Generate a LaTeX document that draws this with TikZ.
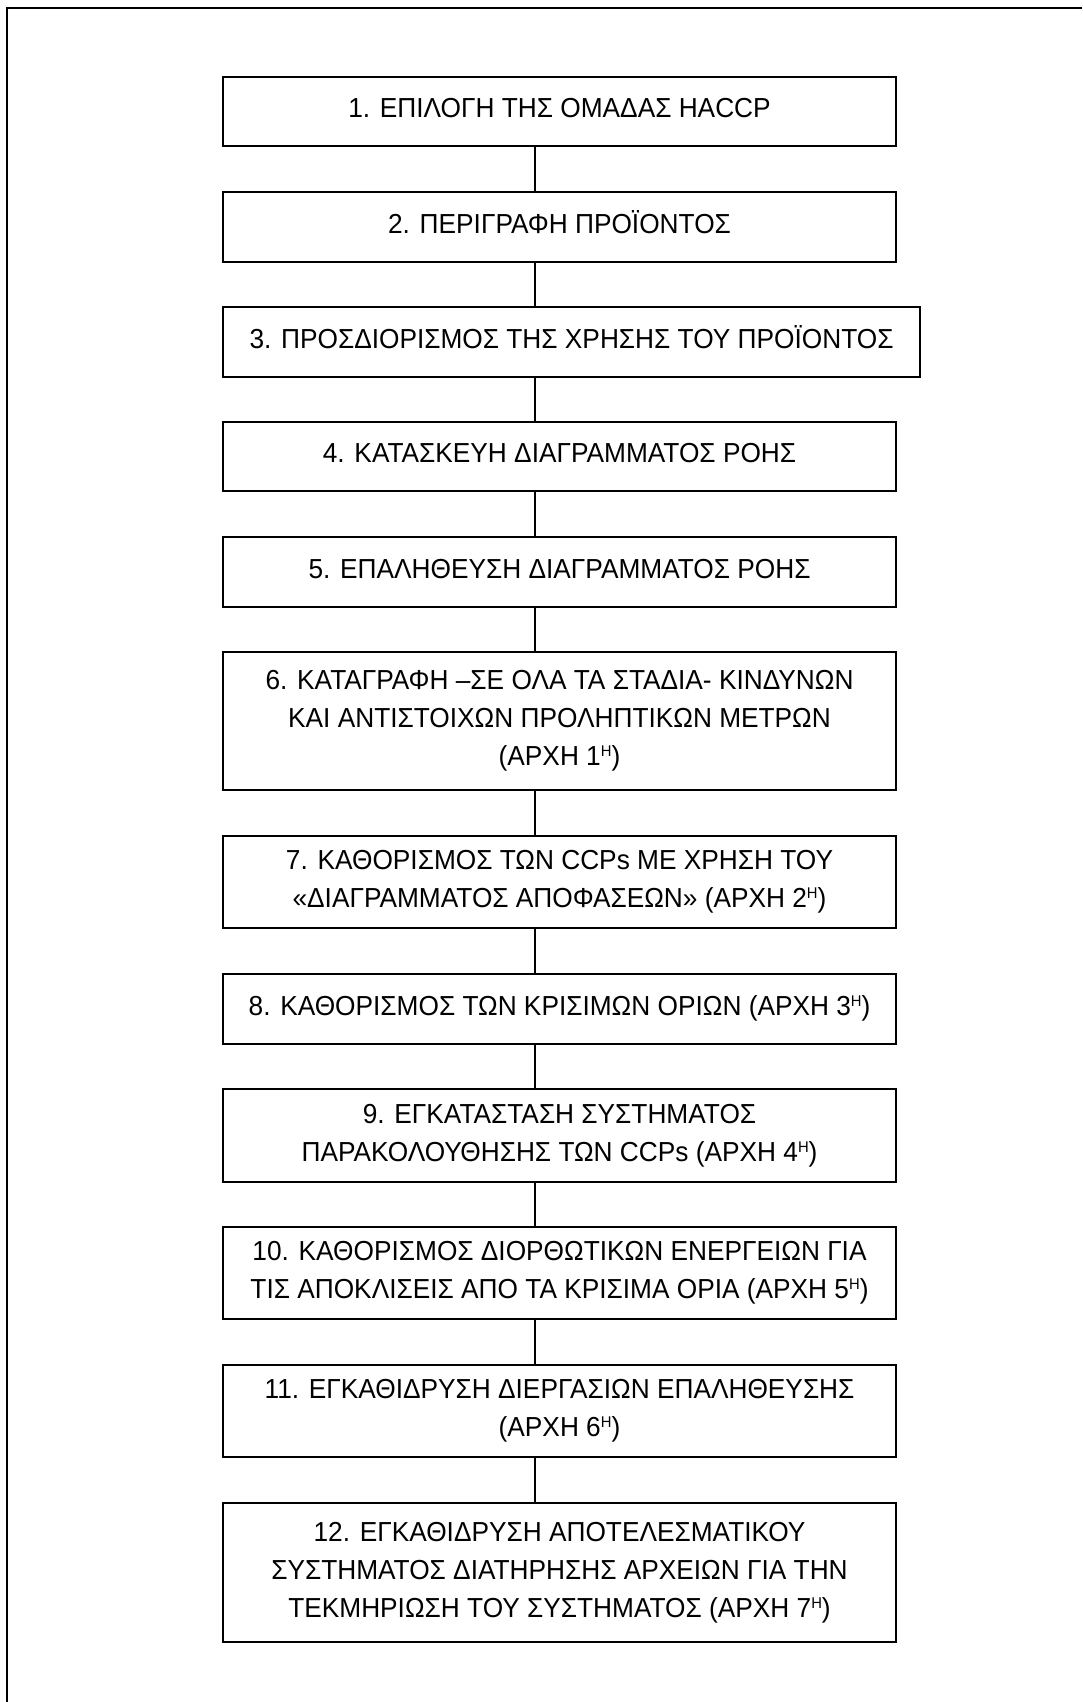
\documentclass[tikz,border=0pt]{standalone}
\usepackage{fontspec}
\setmainfont[FakeStretch=0.955]{Liberation Sans}
\newcommand\supH{\raisebox{9pt}{\fontsize{15.5}{15.5}\selectfont Η}}
\begin{document}
\begin{tikzpicture}[x=1pt,y=-1pt,
  stepbox/.style={draw=black, line width=2.4pt, rectangle, minimum width=673pt, inner sep=0pt,
    align=center, font=\fontsize{27.5}{38}\selectfont},
  oneline/.style={text height=20pt, text depth=8pt},
  link/.style={draw=black, line width=2.8pt},
  frame/.style={draw=black, line width=2.4pt}]
\useasboundingbox (0,0) rectangle (1082,1702);
\coordinate (tl) at (7,8);
\coordinate (tr) at (1082,8);
\coordinate (bl) at (7,1702);
\draw[frame] (tr) -- (tl) -- (bl);
\coordinate (spine) at (535,0);

\node[stepbox, oneline, minimum height=69pt] (b1) at (559.5,111.5) {1. ΕΠΙΛΟΓΗ ΤΗΣ ΟΜΑΔΑΣ HACCP};
\node[stepbox, oneline, minimum height=70pt] (b2) at (559.5,227) {2. ΠΕΡΙΓΡΑΦΗ ΠΡΟΪΟΝΤΟΣ};
\node[stepbox, oneline, minimum height=70pt, minimum width=697pt] (b3) at (571.5,342) {3. ΠΡΟΣΔΙΟΡΙΣΜΟΣ ΤΗΣ ΧΡΗΣΗΣ ΤΟΥ ΠΡΟΪΟΝΤΟΣ};
\node[stepbox, oneline, minimum height=69pt] (b4) at (559.5,456.5) {4. ΚΑΤΑΣΚΕΥΗ ΔΙΑΓΡΑΜΜΑΤΟΣ ΡΟΗΣ};
\node[stepbox, oneline, minimum height=70pt] (b5) at (559.5,572) {5. ΕΠΑΛΗΘΕΥΣΗ ΔΙΑΓΡΑΜΜΑΤΟΣ ΡΟΗΣ};
\node[stepbox, minimum height=138pt] (b6) at (559.5,721) {6. ΚΑΤΑΓΡΑΦΗ –ΣΕ ΟΛΑ ΤΑ ΣΤΑΔΙΑ- ΚΙΝΔΥΝΩΝ\\ΚΑΙ ΑΝΤΙΣΤΟΙΧΩΝ ΠΡΟΛΗΠΤΙΚΩΝ ΜΕΤΡΩΝ\\(ΑΡΧΗ 1\supH)};
\node[stepbox, minimum height=92pt] (b7) at (559.5,882) {7. ΚΑΘΟΡΙΣΜΟΣ ΤΩΝ CCPs ΜΕ ΧΡΗΣΗ ΤΟΥ\\«ΔΙΑΓΡΑΜΜΑΤΟΣ ΑΠΟΦΑΣΕΩΝ» (ΑΡΧΗ 2\supH)};
\node[stepbox, oneline, minimum height=70pt] (b8) at (559.5,1009) {8. ΚΑΘΟΡΙΣΜΟΣ ΤΩΝ ΚΡΙΣΙΜΩΝ ΟΡΙΩΝ (ΑΡΧΗ 3\supH)};
\node[stepbox, minimum height=93pt] (b9) at (559.5,1135.5) {9. ΕΓΚΑΤΑΣΤΑΣΗ ΣΥΣΤΗΜΑΤΟΣ\\ΠΑΡΑΚΟΛΟΥΘΗΣΗΣ ΤΩΝ CCPs (ΑΡΧΗ 4\supH)};
\node[stepbox, minimum height=92pt] (b10) at (559.5,1273) {10. ΚΑΘΟΡΙΣΜΟΣ ΔΙΟΡΘΩΤΙΚΩΝ ΕΝΕΡΓΕΙΩΝ ΓΙΑ\\ΤΙΣ ΑΠΟΚΛΙΣΕΙΣ ΑΠΟ ΤΑ ΚΡΙΣΙΜΑ ΟΡΙΑ (ΑΡΧΗ 5\supH)};
\node[stepbox, minimum height=92pt] (b11) at (559.5,1411) {11. ΕΓΚΑΘΙΔΡΥΣΗ ΔΙΕΡΓΑΣΙΩΝ ΕΠΑΛΗΘΕΥΣΗΣ\\(ΑΡΧΗ 6\supH)};
\node[stepbox, minimum height=139pt] (b12) at (559.5,1572.5) {12. ΕΓΚΑΘΙΔΡΥΣΗ ΑΠΟΤΕΛΕΣΜΑΤΙΚΟΥ\\ΣΥΣΤΗΜΑΤΟΣ ΔΙΑΤΗΡΗΣΗΣ ΑΡΧΕΙΩΝ ΓΙΑ ΤΗΝ\\ΤΕΚΜΗΡΙΩΣΗ ΤΟΥ ΣΥΣΤΗΜΑΤΟΣ (ΑΡΧΗ 7\supH)};

\foreach \a/\b in {b1/b2,b2/b3,b3/b4,b4/b5,b5/b6,b6/b7,b7/b8,b8/b9,b9/b10,b10/b11,b11/b12}
  \draw[link] (\a.south -| spine) -- (\b.north -| spine);
\end{tikzpicture}
\end{document}
